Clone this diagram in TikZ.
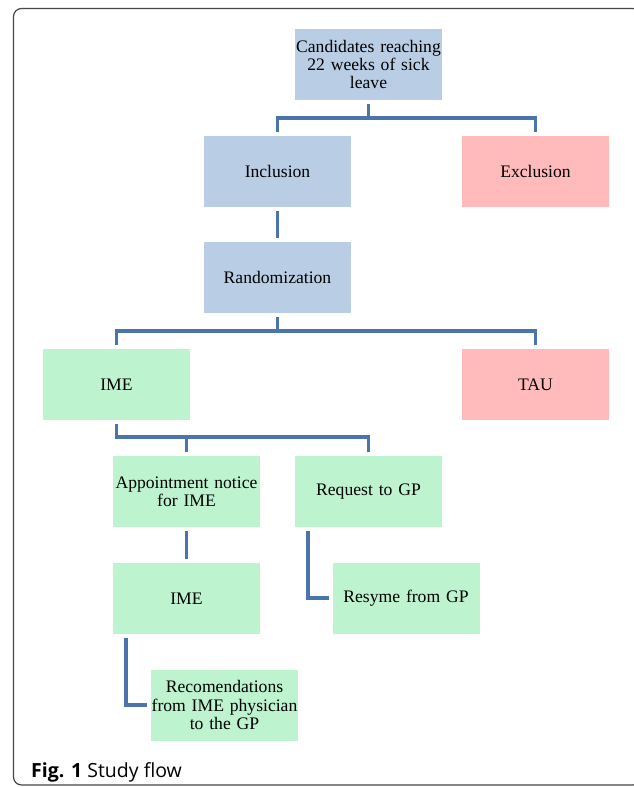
\documentclass[tikz,border=0pt]{standalone}
\usepackage{fontspec}
\setmainfont{Liberation Serif}
\newfontfamily\capfont{Open Sans}
\usetikzlibrary{calc,positioning}

\definecolor{boxblue}{RGB}{185,205,228}
\definecolor{boxgreen}{RGB}{189,243,206}
\definecolor{boxpink}{RGB}{255,187,188}
\definecolor{linkblue}{RGB}{74,116,170}
\definecolor{framegray}{RGB}{70,70,70}

\tikzset{
    box/.style={minimum width=147, minimum height=71, inner sep=0pt, outer sep=4pt,
        align=center, text width=147, font=\fontsize{17.6}{18.4}\selectfont},
    blue box/.style={box, fill=boxblue},
    green box/.style={box, fill=boxgreen},
    pink box/.style={box, fill=boxpink},
    link/.style={draw=linkblue, line width=3.2}
}

\begin{document}
\begin{tikzpicture}[x=1pt, y=-1pt]
        \useasboundingbox (0,0) rectangle (633,787);
        \draw[framegray, line width=1.2, rounded corners=8] (13.5,8.5) rectangle (641,785);

        \node[blue box] (cand) at (368.5,64.5) {Candidates reaching\\22 weeks of sick\\leave};
        \node[blue box] (incl) at (277.5,171) {Inclusion};
        \node[pink box] (excl) at (535.5,171) {Exclusion};
        \node[blue box] (rand) at (277.5,277.5) {Randomization};
        \node[green box] (ime) at (116.5,384.5) {IME};
        \node[pink box] (tau) at (535.5,384.5) {TAU};
        \node[green box] (appt) at (186.5,491.5) {Appointment notice\\for IME};
        \node[green box] (req) at (368.5,491.5) {Request to GP};
        \node[green box] (ime2) at (186.5,598.5) {IME};
        \node[green box] (res) at (406,598) {Resyme from GP};
        \node[green box] (rec) at (224.5,705) {Recomendations\\from IME physician\\to the GP};

        \coordinate (1) at ($(cand.south)+(0,14)$);
        \coordinate (2) at ($(rand.south)+(0,14)$);
        \coordinate (3) at ($(ime.south)+(0,13)$);

        \draw[link] (cand.south) -- (1);
        \draw[link] (incl.north) |- (1) -| (excl.north);
        \draw[link] (incl) -- (rand);
        \draw[link] (rand.south) -- (2);
        \draw[link] (ime.north) |- (2) -| (tau.north);
        \draw[link] (ime.south) -- (3) -| (req.north);
        \draw[link] (appt.north) -- (appt.north |- 3);
        \draw[link] (appt) -- (ime2);
        \draw[link] ($(req.south west)+(17,0)$) |- (res.west);
        \draw[link] ($(ime2.south west)+(17,0)$) |- (rec.west);

        \node[anchor=base west, inner sep=0pt] (cap) at (31,777)
            {\capfont\fontsize{19.5}{22}\selectfont\textbf{Fig. 1} Study flow};
    \end{tikzpicture}
\end{document}
